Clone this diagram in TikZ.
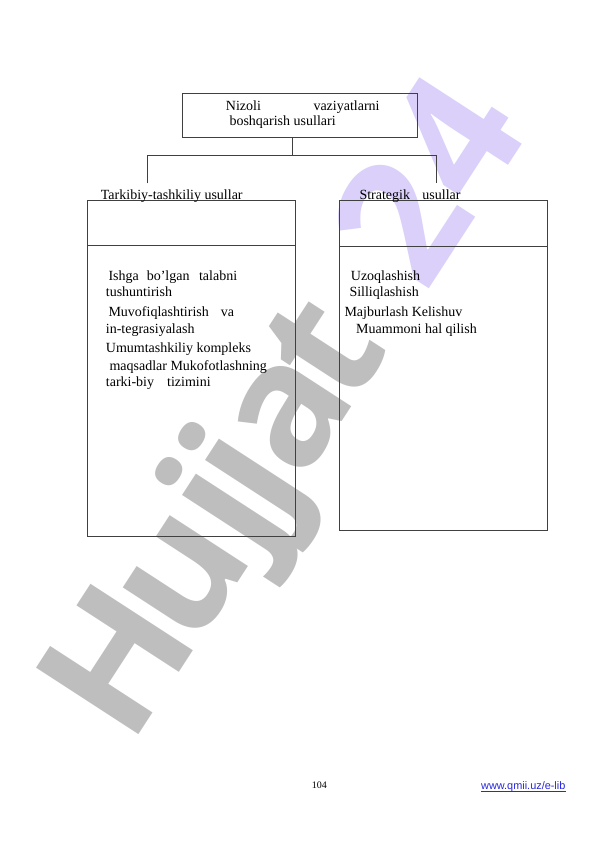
\documentclass[tikz,border=0pt]{standalone}
\usepackage{fontspec}
\setmainfont{Liberation Serif}
\newfontfamily\wmfont{Open Sans}
\newfontfamily\urlfont{Liberation Sans}
\definecolor{wmgray}{RGB}{190,190,190}
\definecolor{wmpurple}{RGB}{218,208,250}
\definecolor{linkblue}{RGB}{40,40,220}
\begin{document}
\begin{tikzpicture}[x=1pt,y=-1pt,
  box/.style={draw=black!75, line width=0.6pt, inner sep=0pt},
  conn/.style={draw=black!75, line width=0.6pt},
  wm/.style={anchor=base, inner sep=0pt, rotate=57, text=wmgray, font=\wmfont\bfseries\fontsize{171}{171}\selectfont},
  wmp/.style={wm, text=wmpurple},
  txt/.style={anchor=base west, inner sep=0pt, font=\fontsize{14}{16}\selectfont}]
\useasboundingbox (0,0) rectangle (596,842);
\fill[white] (0,0) rectangle (596,842);
% watermark, letter by letter along its baseline
\node[wm] (wH) at (166.2,692.7) {H};
\node[wm] (wu) at (225.0,602.1) {u};
\node[wm] (wj1) at (268.1,535.8) {j};
\node[wm] (wj2) at (291.0,500.6) {j};
\node[wm] (wa) at (330.8,439.4) {a};
\node[wm] (wt) at (370.5,378.1) {t};
\node[wmp] (w2) at (451.7,253.1) {2};
\node[wmp] (w4) at (505.2,170.9) {4};
% top box
\node[box, minimum width=234.6pt, minimum height=44.3pt] (top) at (300,115.2) {};
\node[txt] (t1a) at (225.7,110.7) {Nizoli};
\node[txt] (t1b) at (313.3,110.7) {vaziyatlarni};
\node[txt] (t2) at (229.3,125.3) {boshqarish usullari};
% connectors
\coordinate (jn) at (292.3,155.3);
\coordinate (lj) at (147.7,155.3);
\coordinate (rj) at (436.7,155.3);
\coordinate (lend) at (147.7,183.3);
\coordinate (rend) at (436.7,183.3);
\draw[conn] (top.south -| jn) -- (jn);
\draw[conn] (lend) -- (lj) -- (rj) -- (rend);
% left box
\node[box, minimum width=207.7pt, minimum height=335.3pt] (lbox) at (191.15,368.35) {};
\draw[conn] (lbox.west |- 0,245.7) -- (lbox.east |- 0,245.7);
% right box
\node[box, minimum width=207.6pt, minimum height=330pt] (rbox) at (443.5,365.7) {};
\draw[conn] (rbox.west |- 0,246) -- (rbox.east |- 0,246);
% headings
\node[txt] (lhead) at (100.7,199.3) {Tarkibiy-tashkiliy usullar};
\node[txt] (rhead) at (359.3,199.3) {Strategik\hspace{12.4pt}usullar};
% left list
\node[txt] (l1) at (108.3,280) {Ishga\hspace{8pt}bo’lgan\hspace{9.5pt}talabni};
\node[txt] (l2) at (105.7,296.7) {tushuntirish};
\node[txt] (l3) at (108.3,316) {Muvofiqlashtirish\hspace{12pt}va};
\node[txt] (l4) at (105.7,333.3) {in-tegrasiyalash};
\node[txt] (l5) at (105.7,352.7) {Umumtashkiliy kompleks};
\node[txt] (l6) at (109.3,370.7) {maqsadlar Mukofotlashning};
\node[txt] (l7) at (105.7,386.7) {tarki-biy\hspace{13pt}tizimini};
% right list
\node[txt] (r1) at (350.7,280) {Uzoqlashish};
\node[txt] (r2) at (349.3,296.7) {Silliqlashish};
\node[txt] (r3) at (344.3,316) {Majburlash Kelishuv};
\node[txt] (r4) at (356,333.3) {Muammoni hal qilish};
% footer
\node[anchor=base west, inner sep=0pt, font=\fontsize{10}{12}\selectfont] (pg) at (311.7,788.3) {104};
\node[anchor=base west, inner sep=0pt, font=\urlfont\fontsize{10.9}{12}\selectfont, text=linkblue] (url) at (481,789.3) {www.qmii.uz/e-lib};
\draw[linkblue, line width=0.5pt] ([yshift=-1.5pt]url.base west) -- ([yshift=-1.5pt]url.base east);
\end{tikzpicture}
\end{document}
